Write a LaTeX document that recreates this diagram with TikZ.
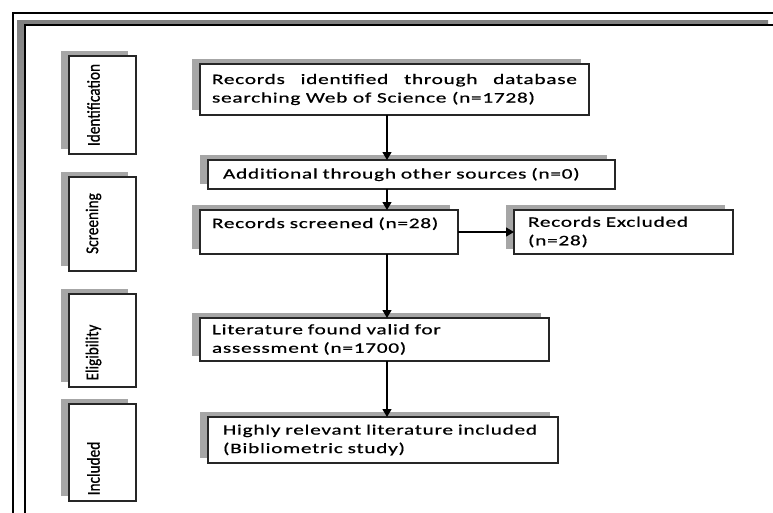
\documentclass[tikz,border=0pt]{standalone}
\usepackage{fontspec}
\setmainfont{Carlito}[FakeStretch=1.47,LetterSpace=5,FakeBold=0.6]
\newfontfamily\stagefont{Carlito}[FakeStretch=0.85,FakeBold=0.8]
\usetikzlibrary{shadows,arrows.meta}
\definecolor{shade}{HTML}{A6A6A6}
\definecolor{edge}{HTML}{262626}
\begin{document}
\begin{tikzpicture}[x=1pt,y=-1pt,
  box/.style={draw=edge, line width=1.3pt, fill=white, anchor=north west,
    inner xsep=0pt, inner ysep=0pt, outer sep=0pt,
    copy shadow={shadow xshift=-8pt, shadow yshift=5pt, fill=shade, draw=none},
    font=\fontsize{14.5}{18.5}\selectfont},
  stagebox/.style={box, minimum width=67pt, text width=67pt},
  stagelabel/.style={rotate=90, inner sep=0pt, font=\stagefont\fontsize{18}{20}\selectfont},
  arr/.style={draw=black, line width=1.3pt, -{Triangle[length=8pt,width=9pt]}}]
\useasboundingbox (0,0) rectangle (773,512);
\clip (0,0) rectangle (773,512);
% frames
\draw[line width=1.5pt] (13,13) rectangle (800,540);
\fill[shade] (17,20) rectangle (768,507);
\draw[line width=1.5pt, fill=white] (25,25) rectangle (776,514);
% stage boxes
\node[stagebox, minimum height=98pt] (s1) at (69,56) {};
\node[stagebox, minimum height=94pt] (s2) at (69,177) {};
\node[stagebox, minimum height=93pt] (s3) at (69,294) {};
\node[stagebox, minimum height=97pt] (s4) at (69,404) {};
\node[stagelabel] (l1) at (93.5,105) {Identification};
\node[stagelabel] (l2) at (93.5,223.5) {Screening};
\node[stagelabel] (l3) at (93.5,352.5) {Eligibility};
\node[stagelabel] (l4) at (93.5,468.5) {Included};
% main boxes
\node[box, minimum width=389pt, minimum height=51pt, text width=365pt, inner xsep=12pt, align=justify] (b1) at (200,64)
  {Records identified through database\linebreak searching Web of Science (n=1728)};
\node[box, minimum width=407pt, minimum height=29pt, text width=377pt, inner xsep=15pt, align=left] (b2) at (208,160)
  {Additional through other sources (n=0)};
\node[box, minimum width=258pt, minimum height=44pt, text width=234pt, inner xsep=12pt, align=left] (b3) at (200,210)
  {Records screened (n=28)\\\mbox{}};
\node[box, minimum width=219pt, minimum height=44pt, text width=191pt, inner xsep=14pt, align=left] (b4) at (514,210)
  {Records Excluded\\(n=28)};
\node[box, minimum width=349pt, minimum height=43pt, text width=325pt, inner xsep=12pt, align=left] (b5) at (200,318)
  {Literature found valid for\\assessment (n=1700)};
\node[box, minimum width=350pt, minimum height=46pt, text width=320pt, inner xsep=15pt, align=left] (b6) at (208,417)
  {Highly relevant literature included\\(Bibliometric study)};
% connectors
\coordinate (ax) at (387,0);
\draw[arr] (b1.south -| ax) -- (b2.north -| ax);
\draw[arr] (b2.south -| ax) -- (b3.north -| ax);
\draw[arr] (b3.south -| ax) -- (b5.north -| ax);
\draw[arr] (b5.south -| ax) -- (b6.north -| ax);
\coordinate (h0) at (b3.east);
\draw[arr] (h0) -- (h0 -| b4.west);
\end{tikzpicture}
\end{document}
